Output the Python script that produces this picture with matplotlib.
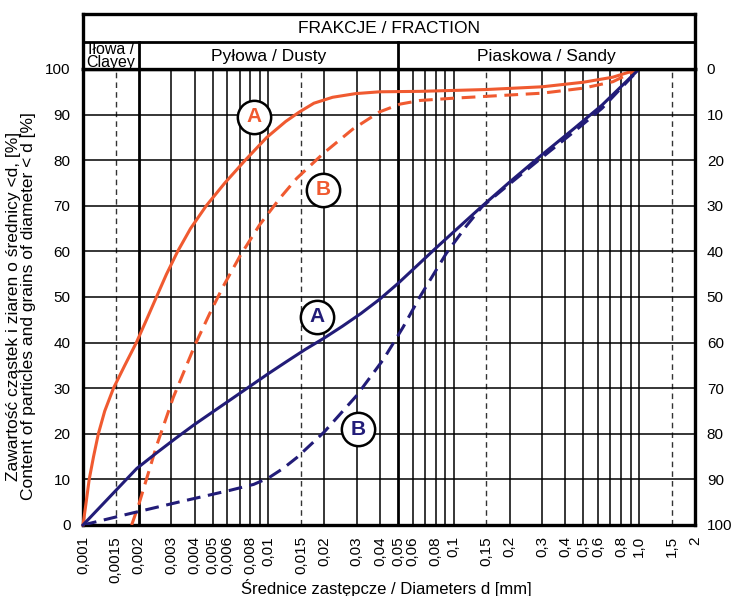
import matplotlib
matplotlib.use('Agg')
import numpy as np
from matplotlib import pyplot as plt

plt.rcParams['font.family'] = ['Liberation Sans', 'DejaVu Sans']

# curves: diameter [mm] / content [%]
orange_a_d = [0.001, 0.00104, 0.00108, 0.00114, 0.00121, 0.00131, 0.00146, 0.00168, 0.00194,
              0.0022, 0.00249, 0.00282, 0.00324, 0.0038, 0.00462, 0.00582, 0.0075, 0.0098,
              0.0124, 0.0146, 0.0176, 0.0222, 0.0295, 0.0398, 0.066, 0.15, 0.3, 0.5, 0.72, 1.0]
orange_a_p = [0, 5, 10, 15, 20, 25, 30, 35, 40, 45, 50, 55, 60, 65, 70, 75, 80, 85,
              88.5, 90.5, 92.5, 93.8, 94.6, 95.0, 95.1, 95.5, 96.1, 97.1, 98.2, 100]

orange_b_d = [0.00183, 0.002, 0.0025, 0.00307, 0.00402, 0.00484, 0.0057, 0.00703, 0.00896,
              0.0115, 0.0142, 0.0198, 0.0285, 0.0398, 0.0513, 0.0658, 0.1, 0.3, 0.5, 0.72, 1.0]
orange_b_p = [0, 4.5, 17.5, 28, 39.5, 46.5, 52.3, 59, 65.8, 71.6, 76, 81.5, 86.8, 90.6,
              92.3, 93.1, 93.6, 94.7, 95.8, 97.2, 100]

navy_a_d = [0.001, 0.00195, 0.00251, 0.00316, 0.00398, 0.00501, 0.00631, 0.00794, 0.01,
            0.0126, 0.0158, 0.02, 0.0251, 0.0316, 0.0398, 0.0501, 0.0631, 0.0794, 0.1,
            0.141, 0.2, 0.295, 0.447, 0.631, 1.0]
navy_a_p = [0, 12.4, 15.9, 19.0, 22.0, 24.8, 27.6, 30.4, 33.2, 35.9, 38.5, 41.0, 43.6,
            46.4, 49.5, 53.0, 56.8, 60.6, 64.3, 69.8, 75.2, 81, 87, 92.1, 100]

navy_b_d = [0.001, 0.00179, 0.00334, 0.0062, 0.00832, 0.01, 0.012, 0.01425, 0.02, 0.0298,
            0.0417, 0.0533, 0.066, 0.0912, 0.117, 0.142, 0.2, 0.295, 0.447, 0.631, 1.0]
navy_b_p = [0, 2.5, 5.1, 7.6, 8.9, 10.3, 12.4, 14.8, 20.4, 28.3, 36.3, 43.4, 50.2, 59.6,
            65.6, 69.8, 74.8, 80.4, 86.3, 91.4, 100]

x_ticks = [0.001, 0.0015, 0.002, 0.003, 0.004, 0.005, 0.006, 0.008, 0.01, 0.015, 0.02, 0.03,
           0.04, 0.05, 0.06, 0.08, 0.1, 0.15, 0.2, 0.3, 0.4, 0.5, 0.6, 0.8, 1.0, 1.5, 2]
x_labels = ['0,001', '0,0015', '0,002', '0,003', '0,004', '0,005', '0,006', '0,008', '0,01',
            '0,015', '0,02', '0,03', '0,04', '0,05', '0,06', '0,08', '0,1', '0,15', '0,2',
            '0,3', '0,4', '0,5', '0,6', '0,8', '1,0', '1,5', '2']
y_ticks = [0, 10, 20, 30, 40, 50, 60, 70, 80, 90, 100]

fractions = ['Iłowa /\nClayey', 'Pyłowa / Dusty', 'Piaskowa / Sandy']
fraction_bounds = [0.001, 0.002, 0.05, 2]

ORANGE = '#f05a30'
NAVY = '#221c78'

fig = plt.figure(figsize=(7.34, 5.96), dpi=100)
ax = fig.add_axes([83/734, 1-525/596, 612/734, 456/596])
ax.set_xscale('log')
ax.set_xlim(0.001, 2)
ax.set_ylim(0, 100)

# grid: every 1..9 x decade, dashed at the 1.5 marks, heavy at the fraction borders
for dec in [0.001, 0.01, 0.1, 1.0]:
    for m in range(1, 10):
        v = dec*m
        if v <= 0.001 or v >= 2:
            continue
        lw = 2.0 if v in (0.002, 0.05) else 1.1
        ax.axvline(v, color='black', lw=lw, zorder=1)
    if dec*1.5 < 2:
        ax.axvline(dec*1.5, color='#333333', lw=1.0, ls=(0, (4, 3)), zorder=1)
for v in y_ticks[1:-1]:
    ax.axhline(v, color='black', lw=1.1, zorder=1)

ax.plot(orange_a_d, orange_a_p, color=ORANGE, lw=2.2, zorder=3, clip_on=False)
ax.plot(orange_b_d, orange_b_p, color=ORANGE, lw=2.2, dashes=(4.5, 2.5), zorder=3)
ax.plot(navy_a_d, navy_a_p, color=NAVY, lw=2.2, zorder=3, clip_on=False)
ax.plot(navy_b_d, navy_b_p, color=NAVY, lw=2.2, dashes=(4.5, 2.5), zorder=3)

for (x, y, t, c) in [(0.00837, 89.5, 'A', ORANGE), (0.0198, 73.5, 'B', ORANGE),
                     (0.0182, 45.7, 'A', NAVY), (0.0305, 21, 'B', NAVY)]:
    ax.plot([x], [y], marker='o', ms=24, mfc='white', mec='black', mew=1.8, zorder=4)
    ax.text(x, y, t, color=c, fontsize=15, fontweight='bold', ha='center', va='center', zorder=5)

for s in ax.spines.values():
    s.set_linewidth(2.4)

ax.set_xticks(x_ticks)
ax.set_xticklabels(x_labels, rotation=90, fontsize=11)
ax.xaxis.set_minor_locator(matplotlib.ticker.NullLocator())
ax.set_yticks(y_ticks)
ax.set_yticklabels([str(v) for v in y_ticks], fontsize=11)
ax.tick_params(axis='x', length=0, pad=8)
ax.tick_params(axis='y', length=0, pad=9)

fig.text(386/734, 1-588/596, 'Średnice zastępcze / Diameters d [mm]', fontsize=12,
         ha='center', va='center')
fig.text(21/734, 1-306/596, 'Zawartość cząstek i ziaren o średnicy <d, [%]\n'
         'Content of particles and grains of diameter < d [%]', fontsize=12.5,
         rotation=90, ha='center', va='center', linespacing=1.05)

ax2 = ax.twinx()
ax2.set_ylim(100, 0)
ax2.set_yticks(y_ticks)
ax2.set_yticklabels([str(v) for v in y_ticks], fontsize=11)
ax2.tick_params(length=0, pad=8.5)
for s in ax2.spines.values():
    s.set_visible(False)

# header boxes
hd = fig.add_axes([83/734, 1-69/596, 612/734, 55/596])
hd.set_xscale('log')
hd.set_xlim(0.001, 2)
hd.set_ylim(0, 2)
hd.set_xticks([])
hd.set_yticks([])
hd.xaxis.set_minor_locator(matplotlib.ticker.NullLocator())
for s in hd.spines.values():
    s.set_linewidth(2.4)
hd.axhline(1, color='black', lw=2.0)
for b in fraction_bounds[1:-1]:
    hd.plot([b, b], [0, 1], color='black', lw=2.0)
hd.text(np.sqrt(0.001*2), 1.47, 'FRAKCJE / FRACTION', ha='center', va='center', fontsize=12.5)
for i, name in enumerate(fractions):
    xc = np.sqrt(fraction_bounds[i]*fraction_bounds[i+1])
    fs = 11.5 if i == 0 else 12.5
    hd.text(xc, 0.47, name, ha='center', va='center', fontsize=fs, linespacing=0.8)

fig.savefig('out.png', dpi=100)
